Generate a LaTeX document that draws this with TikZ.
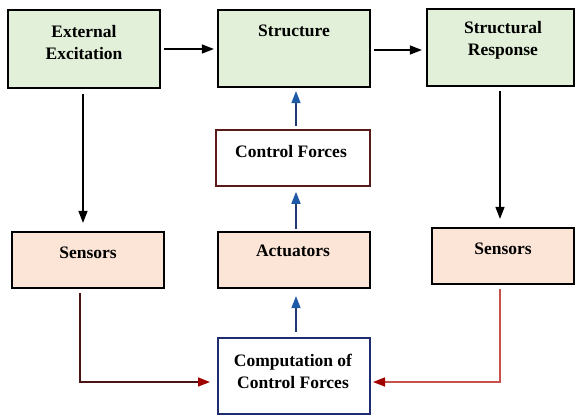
\documentclass[tikz,border=0pt]{standalone}
\usepackage{fontspec}
\setmainfont{Liberation Serif}
\usetikzlibrary{arrows.meta}
\definecolor{boxgreen}{HTML}{E2F0D9}
\definecolor{boxpeach}{HTML}{FCE5D6}
\definecolor{cfborder}{HTML}{5B1A1A}
\definecolor{navy}{HTML}{1F2D6E}
\definecolor{arrowblue}{HTML}{1F5AA6}
\definecolor{lineblue}{HTML}{1F3A73}
\definecolor{darkline}{HTML}{4A1515}
\definecolor{redline}{HTML}{C8504D}
\definecolor{tipred}{HTML}{A00000}
\begin{document}
\begin{tikzpicture}[x=1pt,y=-1pt,
  greenbox/.style={draw=black,line width=2.2pt,fill=boxgreen,inner sep=0pt},
  peachbox/.style={draw=black,line width=2.2pt,fill=boxpeach,inner sep=0pt},
  cfbox/.style={draw=cfborder,line width=1.6pt,fill=white,inner sep=0pt},
  compbox/.style={draw=navy,line width=2pt,fill=white,inner sep=0pt},
  lbl/.style={font=\bfseries\fontsize{17.5}{22}\selectfont,align=center,inner sep=0pt},
  blackarrow/.style={line width=1.5pt,draw=black,-{Triangle[length=12pt,width=9pt]}},
  bluearrow/.style={line width=1.6pt,draw=lineblue,-{Triangle[length=12pt,width=9pt,color=arrowblue]}},
  redarrow/.style={line width=1.6pt,-{Triangle[length=12pt,width=9pt,color=tipred]}}
]
\useasboundingbox (0,0) rectangle (576,418);
\fill[white] (0,0) rectangle (576,418);

% boxes
\node[greenbox,minimum width=152pt,minimum height=78pt] (ee) at (84,49) {};
\node[greenbox,minimum width=152pt,minimum height=77pt] (st) at (294,48.5) {};
\node[greenbox,minimum width=147pt,minimum height=77pt] (sr) at (500.5,47.5) {};
\node[cfbox,minimum width=154pt,minimum height=56pt] (cf) at (293,158) {};
\node[peachbox,minimum width=152pt,minimum height=56pt] (sl) at (88,260) {};
\node[peachbox,minimum width=152pt,minimum height=56pt] (ac) at (294,260) {};
\node[peachbox,minimum width=142pt,minimum height=56pt] (srs) at (503,256) {};
\node[compbox,minimum width=152pt,minimum height=76pt] (cp) at (294,376) {};

% labels
\node[lbl] (eet) at (84,43) {External\\Excitation};
\node[lbl] (stt) at (294,31) {Structure};
\node[lbl] (srt) at (503,40) {Structural\\Response};
\node[lbl] (cft) at (291,152) {Control Forces};
\node[lbl] (slt) at (88,253) {Sensors};
\node[lbl] (act) at (293,251) {Actuators};
\node[lbl] (srst) at (503,249) {Sensors};
\node[lbl] (cpt) at (293,371) {Computation of\\Control Forces};

% connectors
\draw[blackarrow] ([xshift=3pt]ee.east) -- ([xshift=-3pt]ee.east -| st.west);
\draw[blackarrow] ([xshift=3pt,yshift=-1.5pt]st.east) -- ([xshift=-4pt,yshift=-1.5pt]st.east -| sr.west);
\draw[blackarrow] ([xshift=-1pt,yshift=-5pt]ee.south) -- ([xshift=-1pt,yshift=8pt]ee.south |- sl.north);
\draw[blackarrow] ([xshift=-0.5pt,yshift=-4pt]sr.south) -- ([xshift=-0.5pt,yshift=8pt]sr.south |- srs.north);
\draw[bluearrow] ([xshift=3pt,yshift=3pt]cf.north) -- ([xshift=3pt,yshift=-3pt]cf.north |- st.south);
\draw[bluearrow] ([xshift=2pt,yshift=2pt]ac.north) -- ([xshift=2pt,yshift=-5pt]ac.north |- cf.south);
\draw[bluearrow] ([xshift=2pt,yshift=5pt]cp.north) -- ([xshift=2pt,yshift=-7pt]cp.north |- ac.south);
\draw[redarrow,draw=darkline] ([xshift=-8pt,yshift=-4pt]sl.south) |- ([xshift=-7pt,yshift=-6pt]cp.west);
\draw[redarrow,draw=redline] ([xshift=-3pt,yshift=-4pt]srs.south) |- ([xshift=2pt,yshift=-6pt]cp.east);
\end{tikzpicture}
\end{document}
